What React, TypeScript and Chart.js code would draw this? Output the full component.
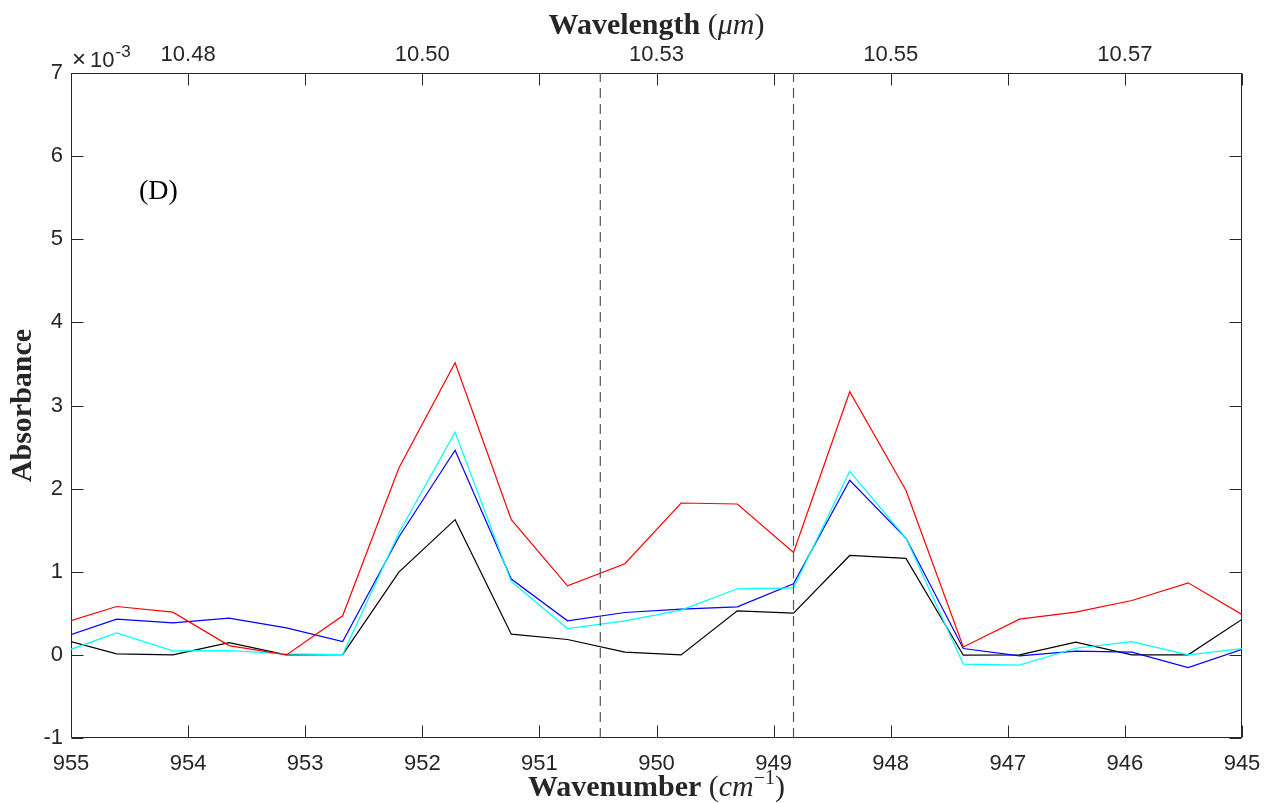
import React, { useEffect, useRef } from "react";
import { Chart, registerables } from "chart.js";

Chart.register(...registerables);

// Wavenumber (cm^-1) of each sample
const wavenumbers = [
  955.09, 954.61, 954.13, 953.65, 953.16, 952.68, 952.2, 951.72, 951.24, 950.76, 950.27,
  949.79, 949.31, 948.83, 948.35, 947.87, 947.38, 946.9, 946.42, 945.94, 945.46, 944.97,
];

// Absorbance values in units of 10^-3
const redSeries = [
  0.374, 0.582, 0.514, 0.112, 0.0, 0.47, 2.249, 3.514, 1.627, 0.831, 1.096,
  1.827, 1.815, 1.233, 3.165, 1.98, 0.095, 0.43, 0.514, 0.654, 0.867, 0.46,
];
const cyanSeries = [
  0.022, 0.265, 0.048, 0.052, 0.012, 0.004, 1.466, 2.679, 0.883, 0.317, 0.41,
  0.538, 0.795, 0.807, 2.209, 1.406, -0.112, -0.124, 0.08, 0.16, 0.0, 0.08,
];
const blueSeries = [
  0.202, 0.43, 0.386, 0.442, 0.325, 0.16, 1.418, 2.462, 0.912, 0.41, 0.51,
  0.55, 0.578, 0.855, 2.1, 1.406, 0.076, -0.012, 0.044, 0.032, -0.153, 0.08,
];
const blackSeries = [
  0.194, 0.012, 0.0, 0.148, 0.0, 0.004, 0.996, 1.627, 0.249, 0.185, 0.034,
  0.0, 0.53, 0.502, 1.196, 1.16, -0.004, 0.0, 0.153, 0.0, 0.0, 0.455,
];

// Vertical dashed markers (cm^-1)
const markerLines = [950.48, 948.83];

const xMin = 945;
const xMax = 955;
const yMin = -1;
const yMax = 7;
const yTickLabels = ["-1", "0", "1", "2", "3", "4", "5", "6", "7"];
const topLabelWavenumbers = [954, 952, 950, 948, 946];

const panelLabel = "(D)";
const panelLabelPos = { x: 954.42, y: 5.48 };

const AXIS_COLOR = "#262626";
const TICK_FONT = { family: '"Liberation Sans", Arial, sans-serif', size: 22 };
const SERIF = '"Liberation Serif", "Times New Roman", serif';

type Part = { t: string; f: string; dy?: number };

function drawRich(ctx: CanvasRenderingContext2D, parts: Part[], cx: number, baseline: number) {
  let total = 0;
  for (const p of parts) {
    ctx.font = p.f;
    total += ctx.measureText(p.t).width;
  }
  let x = cx - total / 2;
  ctx.textAlign = "left";
  ctx.textBaseline = "alphabetic";
  for (const p of parts) {
    ctx.font = p.f;
    ctx.fillText(p.t, x, baseline + (p.dy || 0));
    x += ctx.measureText(p.t).width;
  }
}

const framePlugin = {
  id: "frame",
  beforeDatasetsDraw(chart: any) {
    const { ctx, chartArea: a, scales } = chart;
    ctx.save();
    ctx.strokeStyle = AXIS_COLOR;
    ctx.lineWidth = 1;
    const L = Math.round(a.left) + 0.5;
    const R = Math.round(a.right) - 0.5;
    const T = Math.round(a.top) + 0.5;
    const B = Math.round(a.bottom) - 0.5;
    ctx.beginPath();
    ctx.rect(L, T, R - L, B - T);
    const tl = 12;
    for (const tk of scales.x.ticks) {
      const px = Math.round(scales.x.getPixelForValue(tk.value)) + 0.5;
      ctx.moveTo(px, B);
      ctx.lineTo(px, B - tl);
    }
    for (const tk of scales.x2.ticks) {
      const px = Math.round(scales.x2.getPixelForValue(tk.value)) + 0.5;
      ctx.moveTo(px, T);
      ctx.lineTo(px, T + tl);
    }
    for (const tk of scales.y.ticks) {
      const py = Math.round(scales.y.getPixelForValue(tk.value)) + 0.5;
      ctx.moveTo(L, py);
      ctx.lineTo(L + tl, py);
      ctx.moveTo(R, py);
      ctx.lineTo(R - tl, py);
    }
    ctx.stroke();
    ctx.restore();
  },
  afterDraw(chart: any) {
    const { ctx, chartArea: a, scales } = chart;
    ctx.save();
    ctx.fillStyle = AXIS_COLOR;
    const cx = (a.left + a.right) / 2;
    // bottom title
    drawRich(
      ctx,
      [
        { t: "Wavenumber ", f: `bold 30px ${SERIF}` },
        { t: "(", f: `30px ${SERIF}` },
        { t: "cm", f: `italic 30px ${SERIF}` },
        { t: "\u22121", f: `20px ${SERIF}`, dy: -12 },
        { t: ")", f: `30px ${SERIF}` },
      ],
      cx,
      796
    );
    // top title
    drawRich(
      ctx,
      [
        { t: "Wavelength ", f: `bold 30px ${SERIF}` },
        { t: "(", f: `30px ${SERIF}` },
        { t: "\u03bcm", f: `italic 30px ${SERIF}` },
        { t: ")", f: `30px ${SERIF}` },
      ],
      cx,
      34
    );
    // y title
    ctx.save();
    ctx.translate(31, (a.top + a.bottom) / 2);
    ctx.rotate(-Math.PI / 2);
    ctx.font = `bold 30px ${SERIF}`;
    ctx.textAlign = "center";
    ctx.textBaseline = "alphabetic";
    ctx.fillText("Absorbance", 0, 0);
    ctx.restore();
    // exponent
    ctx.textAlign = "left";
    ctx.textBaseline = "alphabetic";
    ctx.font = `24px ${TICK_FONT.family}`;
    ctx.fillText("\u00d7", a.left + 1, 67);
    ctx.font = `22px ${TICK_FONT.family}`;
    ctx.fillText("10", a.left + 19, 67);
    const w = ctx.measureText("10").width;
    ctx.font = `17px ${TICK_FONT.family}`;
    ctx.fillText("-3", a.left + 20 + w, 57);
    // panel label
    ctx.font = `28px ${SERIF}`;
    ctx.fillStyle = "#000";
    ctx.fillText(
      panelLabel,
      scales.x.getPixelForValue(panelLabelPos.x),
      scales.y.getPixelForValue(panelLabelPos.y)
    );
    ctx.restore();
  },
};

function series(values: number[], color: string) {
  return {
    data: wavenumbers.map((x, i) => ({ x, y: values[i] })),
    borderColor: color,
    backgroundColor: color,
    borderWidth: 1.2,
    pointRadius: 0,
    showLine: true,
    fill: false,
    clip: 0,
  };
}

const fitX = (h: number) => (s: any) => {
  s.height = h;
  s.paddingLeft = 0;
  s.paddingRight = 0;
};

export default function App() {
  const ref = useRef<HTMLCanvasElement | null>(null);
  useEffect(() => {
    if (!ref.current) return;
    const dashed = markerLines.map((v) => ({
      data: [
        { x: v, y: yMin },
        { x: v, y: yMax },
      ],
      borderColor: "#555555",
      borderWidth: 1.2,
      borderDash: [10, 6],
      pointRadius: 0,
      showLine: true,
      fill: false,
      clip: 0,
    }));
    const chart = new Chart(ref.current, {
      type: "scatter",
      data: {
        datasets: [
          ...dashed,
          series(redSeries, "#ff0000"),
          series(cyanSeries, "#00ffff"),
          series(blueSeries, "#0000ff"),
          series(blackSeries, "#000000"),
        ] as any,
      },
      plugins: [framePlugin],
      options: {
        animation: false,
        responsive: false,
        events: [],
        layout: { padding: { left: 0, right: 23, top: 0, bottom: 0 } },
        plugins: { legend: { display: false }, tooltip: { enabled: false }, title: { display: false } },
        scales: {
          x: {
            type: "linear",
            position: "bottom",
            reverse: true,
            min: xMin,
            max: xMax,
            grid: { display: false, drawTicks: false },
            border: { display: false },
            ticks: {
              stepSize: 1,
              autoSkip: false,
              maxRotation: 0,
              padding: 13,
              color: AXIS_COLOR,
              font: TICK_FONT,
              callback: (v: any) => String(v),
            },
            afterFit: fitX(65),
          },
          x2: {
            type: "linear",
            position: "top",
            reverse: true,
            min: xMin,
            max: xMax,
            grid: { display: false, drawTicks: false },
            border: { display: false },
            ticks: {
              stepSize: 1,
              autoSkip: false,
              maxRotation: 0,
              padding: 5,
              color: AXIS_COLOR,
              font: TICK_FONT,
              callback: (v: any) =>
                topLabelWavenumbers.includes(Number(v)) ? (10000 / Number(v)).toFixed(2) : "",
            },
            afterFit: fitX(73),
          },
          y: {
            type: "linear",
            min: yMin,
            max: yMax,
            grid: { display: false, drawTicks: false },
            border: { display: false },
            ticks: {
              stepSize: 1,
              padding: 8,
              color: AXIS_COLOR,
              font: TICK_FONT,
              callback: (v: any) => yTickLabels[Number(v) - yMin] ?? String(v),
            },
            afterFit: (s: any) => {
              s.width = 71;
              s.paddingTop = 0;
              s.paddingBottom = 0;
            },
          },
        },
      } as any,
    });
    return () => chart.destroy();
  }, []);
  return (
    <div style={{ position: "absolute", left: 0, top: 0, width: 1265, height: 803, background: "#fff" }}>
      <canvas ref={ref} width={1265} height={803} style={{ display: "block", width: 1265, height: 803 }} />
    </div>
  );
}
